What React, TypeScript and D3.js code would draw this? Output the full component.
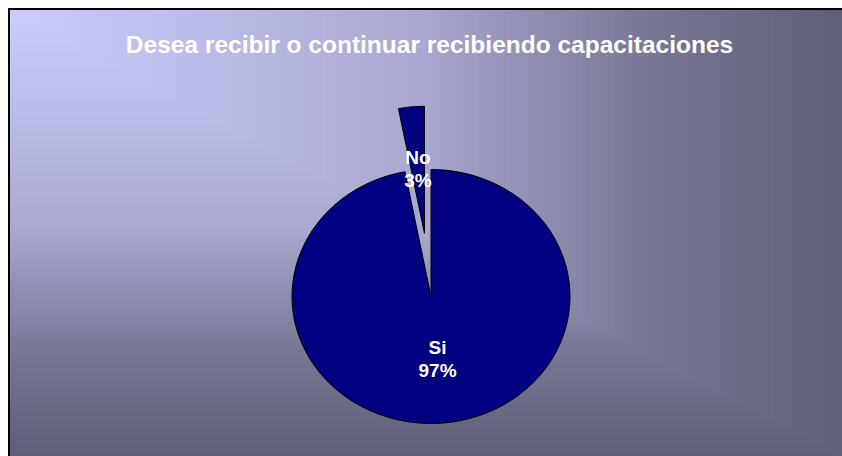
import React from 'react';
import * as d3 from 'd3';

const categories = ['Si', 'No'];
const values = [97, 3];
const percentLabels = ['97%', '3%'];
const explodeFractions = [0, 0.5];
const chartTitle = 'Desea recibir o continuar recibiendo capacitaciones';
const bgStops = [0, 0.5, 0.75, 1];
const bgColors = ['#ccccff', '#a8a8d0', '#7a7a98', '#5f5f78'];

export default function App() {
  const W = 842;
  const H = 456;
  const cx = 431;
  const cy = 296.5;
  const r = 127;
  const sx = 139 / 127;

  const pie = d3.pie<number>().sort(null).startAngle(0).endAngle(2 * Math.PI);
  const arcs = pie(values);
  const arc = d3.arc<d3.PieArcDatum<number>>().innerRadius(0).outerRadius(r);

  const bgColor = d3.scaleLinear<string>().domain(bgStops).range(bgColors).interpolate(d3.interpolateRgb);
  const N = 160;
  const steps = d3.range(N, 0, -1).map((i) => i / N);
  const bx = 10, by = 10, bw = 832, bh = 446;
  const font = "Arial, 'Liberation Sans', sans-serif";

  return (
    <svg
      width={W}
      height={H}
      style={{ position: 'fixed', left: 0, top: 0, display: 'block', overflow: 'hidden' }}
    >
      <rect x={0} y={0} width={W} height={H} fill="#fff" />
      {steps.map((t, i) => (
        <rect key={i} x={bx} y={by} width={bw * t} height={bh * t} fill={bgColor(t)} />
      ))}
      <rect x={9} y={9} width={W + 10} height={H + 10} fill="none" stroke="#000" strokeWidth={2} />
      <text x={429.5} y={53} textAnchor="middle" fill="#fff" fontFamily={font} fontWeight="bold" fontSize={24.5}>
        {chartTitle}
      </text>
      <g transform={`translate(${cx},${cy}) scale(${sx},1)`}>
        {arcs.map((a, i) => {
          const mid = (a.startAngle + a.endAngle) / 2;
          const off = explodeFractions[i] * r;
          return (
            <path
              key={categories[i]}
              d={arc(a) as string}
              transform={`translate(${Math.sin(mid) * off},${-Math.cos(mid) * off})`}
              fill="#000080"
              stroke="#000"
              strokeWidth={1}
              vectorEffect="non-scaling-stroke"
              strokeLinejoin="round"
            />
          );
        })}
      </g>
      {arcs.map((a, i) => {
        const mid = (a.startAngle + a.endAngle) / 2;
        const d = explodeFractions[i] * r + 0.5 * r;
        const lx = cx + Math.sin(mid) * d * sx;
        const ly = cy - Math.cos(mid) * d;
        return (
          <text key={categories[i]} textAnchor="middle" fill="#fff" fontFamily={font} fontWeight="bold" fontSize={19}>
            <tspan x={lx} y={ly - 6}>{categories[i]}</tspan>
            <tspan x={lx} y={ly + 17}>{percentLabels[i]}</tspan>
          </text>
        );
      })}
    </svg>
  );
}
